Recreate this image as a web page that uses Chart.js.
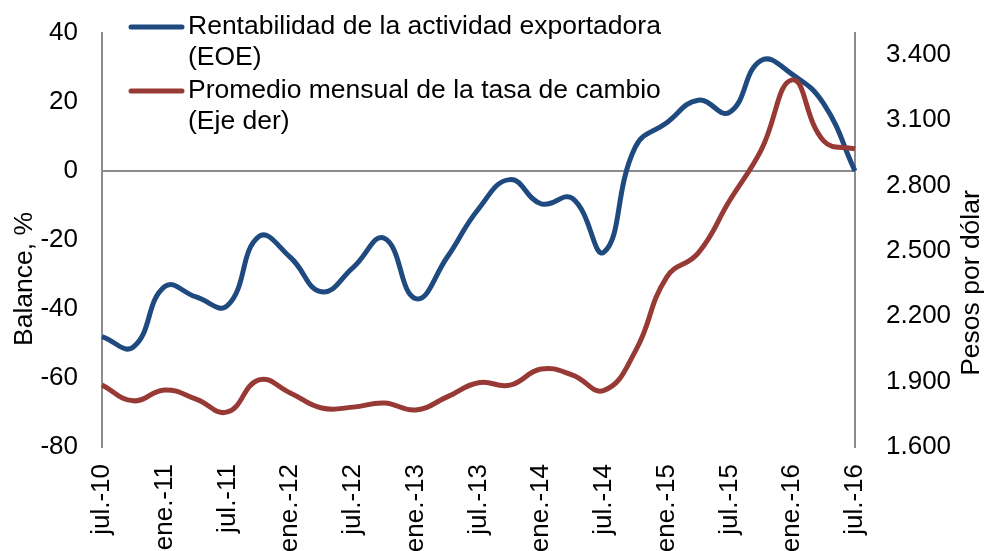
<!DOCTYPE html>
<html>
<head>
<meta charset="utf-8">
<script src="https://cdn.jsdelivr.net/npm/chart.js@4"></script>
<style>
  body { margin: 0; background: #fff; overflow: hidden; }
  #chart { display: block; }
</style>
</head>
<body>
<canvas id="chart" width="985" height="551"></canvas>
<script>
// quarterly points, jul.-10 to jul.-16
const quarters = [
    'jul.-10', 'oct.-10', 'ene.-11', 'abr.-11', 'jul.-11', 'oct.-11', 'ene.-12', 'abr.-12',
    'jul.-12', 'oct.-12', 'ene.-13', 'abr.-13', 'jul.-13', 'oct.-13', 'ene.-14', 'abr.-14',
    'jul.-14', 'oct.-14', 'ene.-15', 'abr.-15', 'jul.-15', 'oct.-15', 'ene.-16', 'abr.-16',
    'jul.-16'
];

// Rentabilidad de la actividad exportadora (EOE), balance %
const rentabilidad = [
    -48, -51, -33.5, -36.5, -39, -19, -25, -35,
    -28, -19.5, -37, -25, -11, -2.5, -9.5, -8,
    -23.5, 7, 14, 20.5, 17, 32, 28, 19.5,
    0
];

// Promedio mensual de la tasa de cambio, pesos por dólar (eje der)
const tasaCambio = [
    1885, 1812, 1862, 1820, 1761, 1908, 1848, 1779,
    1783, 1802, 1770, 1830, 1895, 1884, 1958, 1930,
    1860, 2040, 2380, 2490, 2730, 2960, 3285, 3005,
    2968
];

const balanceTicks = [-80, -60, -40, -20, 0, 20, 40];
const tasaTicks = [1600, 1900, 2200, 2500, 2800, 3100, 3400];

const legendItems = [
    { lines: ['Rentabilidad de la actividad exportadora', '(EOE)'], color: '#1F4A7F' },
    { lines: ['Promedio mensual de la tasa de cambio', '(Eje der)'], color: '#973A36' }
];

const FONT = '"Liberation Sans", Arial, sans-serif';
const AXIS_GRAY = '#8C8C8C';

// fixed plot box: left 102, right 855, top 33, bottom 447
function noPad(s) {
    s.paddingTop = 0;
    s.paddingBottom = 0;
    s.paddingLeft = 0;
    s.paddingRight = 0;
}

// legend + rotated axis titles drawn straight on the canvas
const extras = {
    id: 'extras',
    afterDraw(chart) {
        const ctx = chart.ctx;
        ctx.save();
        ctx.font = '26.5px ' + FONT;
        ctx.fillStyle = '#000';
        ctx.textBaseline = 'middle';

        let y = 27;
        legendItems.forEach(item => {
            ctx.strokeStyle = item.color;
            ctx.lineWidth = 5;
            ctx.lineCap = 'round';
            ctx.beginPath();
            ctx.moveTo(131, y);
            ctx.lineTo(182, y);
            ctx.stroke();
            ctx.textAlign = 'left';
            item.lines.forEach((t, i) => ctx.fillText(t, 188, y + i * 31));
            y += 64;
        });

        ctx.textAlign = 'center';
        ctx.save();
        ctx.translate(25, 279);
        ctx.rotate(-Math.PI / 2);
        ctx.fillText('Balance, %', 0, 0);
        ctx.restore();

        ctx.save();
        ctx.translate(972, 283);
        ctx.rotate(-Math.PI / 2);
        ctx.fillText('Pesos por dólar', 0, 0);
        ctx.restore();

        ctx.restore();
    }
};

const ctx = document.getElementById('chart').getContext('2d');
const chart = new Chart(ctx, {
    type: 'line',
    data: {
        labels: quarters,
        datasets: [
            {
                label: 'Rentabilidad de la actividad exportadora (EOE)',
                data: rentabilidad,
                yAxisID: 'y',
                borderColor: '#1F4A7F',
                borderWidth: 5,
                pointRadius: 0,
                tension: 0.45,
                order: 1
            },
            {
                label: 'Promedio mensual de la tasa de cambio (Eje der)',
                data: tasaCambio,
                yAxisID: 'y1',
                borderColor: '#973A36',
                borderWidth: 5,
                pointRadius: 0,
                tension: 0.45,
                order: 0
            }
        ]
    },
    options: {
        responsive: false,
        animation: false,
        layout: { padding: { top: 33, left: 0, right: 0, bottom: 0 } },
        plugins: {
            legend: { display: false },
            tooltip: { enabled: false }
        },
        scales: {
            x: {
                offset: false,
                border: { display: false },
                grid: { display: false, drawTicks: false },
                afterFit: s => { s.height = 551 - 447; noPad(s); },
                ticks: {
                    autoSkip: false,
                    maxRotation: 90,
                    minRotation: 90,
                    padding: 17,
                    color: '#000',
                    font: { family: FONT, size: 26 },
                    callback: (v, i) => (i % 2 === 0 ? quarters[i] : '')
                }
            },
            y: {
                position: 'left',
                min: -80,
                max: 40,
                afterFit: s => { s.width = 102; noPad(s); },
                afterBuildTicks: s => { s.ticks = balanceTicks.map(v => ({ value: v })); },
                border: { display: true, color: AXIS_GRAY, width: 2 },
                grid: {
                    drawTicks: false,
                    color: c => (c.tick && c.tick.value === 0 ? AXIS_GRAY : 'rgba(0,0,0,0)'),
                    lineWidth: 2
                },
                ticks: {
                    padding: 24,
                    color: '#000',
                    font: { family: FONT, size: 26 }
                }
            },
            y1: {
                position: 'right',
                min: 1600,
                max: 3500,
                afterFit: s => { s.width = 985 - 855; noPad(s); },
                afterBuildTicks: s => { s.ticks = tasaTicks.map(v => ({ value: v })); },
                border: { display: true, color: AXIS_GRAY, width: 2 },
                grid: { display: false, drawTicks: false },
                ticks: {
                    padding: 31,
                    color: '#000',
                    font: { family: FONT, size: 26 },
                    callback: v => (v / 1000).toFixed(3)
                }
            }
        }
    },
    plugins: [extras]
});
</script>
</body>
</html>
